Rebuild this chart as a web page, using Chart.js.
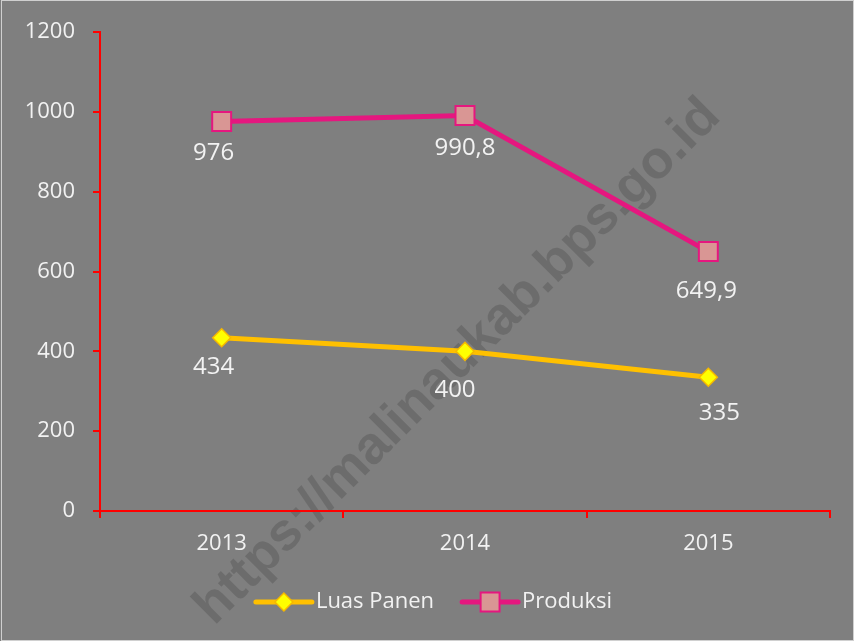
<!DOCTYPE html>
<html>
<head>
<meta charset="utf-8">
<script src="https://cdn.jsdelivr.net/npm/chart.js@4.4.1/dist/chart.umd.min.js"></script>
<style>
  html, body { margin: 0; padding: 0; background: #7f7f7f; }
  #wrap { width: 854px; height: 641px; }
</style>
</head>
<body>
<div id="wrap"><canvas id="grafik"></canvas></div>
<script>
// data
const tahun = ['2013', '2014', '2015'];
const luasPanen = [434, 400, 335];
const produksi = [976, 990.8, 649.9];
const yTicks = [0, 200, 400, 600, 800, 1000, 1200];

const FONT = '"Open Sans", "Noto Sans", sans-serif';
const TEXT = '#f2f2f2';

function angka(v) {
    return String(v).replace('.', ',');
}

// label posisi relatif titik (dx, dy)
const geserLabel = [
    [[-8, 29], [-10, 39], [11, 36]],
    [[-8, 32], [0, 33], [-2, 40]]
];

const latarPlugin = {
    id: 'latar',
    beforeDraw(chart) {
        const c = chart.ctx;
        c.save();
        c.fillStyle = '#7f7f7f';
        c.fillRect(0, 0, chart.width, chart.height);
        c.strokeStyle = '#d0d0d0';
        c.lineWidth = 1;
        c.strokeRect(1.5, 0.5, chart.width - 2, chart.height - 1);
        // watermark
        c.translate(458, 362);
        c.rotate(-Math.PI / 4);
        c.font = 'bold 53px "Liberation Sans", Arial, sans-serif';
        c.fillStyle = 'rgba(0,0,0,0.15)';
        c.textAlign = 'center';
        c.textBaseline = 'middle';
        c.fillText('https://malinaukab.bps.go.id', 0, 0);
        c.restore();
    }
};

const labelPlugin = {
    id: 'labelData',
    afterDatasetsDraw(chart) {
        const c = chart.ctx;
        c.save();
        c.font = '24px ' + FONT;
        c.fillStyle = TEXT;
        c.textAlign = 'center';
        c.textBaseline = 'middle';
        chart.data.datasets.forEach((ds, i) => {
            chart.getDatasetMeta(i).data.forEach((pt, j) => {
                const g = geserLabel[i][j];
                c.fillText(angka(ds.data[j]), pt.x + g[0], pt.y + g[1]);
            });
        });
        c.restore();
    }
};

const legendaPlugin = {
    id: 'legenda',
    afterDraw(chart) {
        const c = chart.ctx;
        c.save();
        c.font = '22px ' + FONT;
        c.textBaseline = 'middle';
        const y = 602;
        const garis = 56, jarak = 4, antar = 28;
        const lebar = chart.data.datasets.map(ds => garis + jarak + c.measureText(ds.label).width);
        let x = (chart.width - (lebar.reduce((a, b) => a + b, 0) + antar * (lebar.length - 1))) / 2 + 7;
        chart.data.datasets.forEach((ds, i) => {
            c.strokeStyle = ds.borderColor;
            c.lineWidth = ds.borderWidth;
            c.lineCap = 'round';
            c.beginPath();
            c.moveTo(x, y);
            c.lineTo(x + garis, y);
            c.stroke();
            c.fillStyle = ds.pointBackgroundColor;
            c.strokeStyle = ds.pointBorderColor;
            c.lineWidth = ds.pointBorderWidth;
            c.beginPath();
            if (ds.pointStyle === 'rect') {
                const s = ds.pointRadius * Math.SQRT1_2;
                c.rect(x + garis / 2 - s, y - s, 2 * s, 2 * s);
            } else {
                const r = ds.pointRadius;
                c.moveTo(x + garis / 2 - r, y);
                c.lineTo(x + garis / 2, y - r);
                c.lineTo(x + garis / 2 + r, y);
                c.lineTo(x + garis / 2, y + r);
                c.closePath();
            }
            c.fill();
            c.stroke();
            c.fillStyle = TEXT;
            c.textAlign = 'left';
            c.fillText(ds.label, x + garis + jarak, y);
            x += lebar[i] + antar;
        });
        c.restore();
    }
};

const ctx = document.getElementById('grafik');

let grafik = new Chart(ctx, {
    type: 'line',
    data: {
        labels: tahun,
        datasets: [{
            label: 'Luas Panen',
            data: luasPanen,
            borderColor: '#ffc000',
            borderWidth: 5,
            pointStyle: 'rectRot',
            pointRadius: 9,
            pointHoverRadius: 9,
            pointBackgroundColor: '#ffff00',
            pointBorderColor: '#f5b800',
            pointBorderWidth: 1.5,
            tension: 0,
            fill: false
        }, {
            label: 'Produksi',
            data: produksi,
            borderColor: '#e5177f',
            borderWidth: 5,
            pointStyle: 'rect',
            pointRadius: 13.4,
            pointHoverRadius: 13.4,
            pointBackgroundColor: '#d99694',
            pointBorderColor: '#e5177f',
            pointBorderWidth: 2,
            tension: 0,
            fill: false
        }]
    },
    options: {
        responsive: true,
        maintainAspectRatio: false,
        animation: false,
        events: [],
        layout: { padding: { top: 32, right: 24, bottom: 0, left: 0 } },
        plugins: {
            legend: { display: false },
            tooltip: { enabled: false }
        },
        scales: {
            x: {
                offset: true,
                grid: {
                    offset: true,
                    drawOnChartArea: false,
                    color: '#ff0000',
                    lineWidth: 2,
                    tickLength: 7
                },
                border: { color: '#ff0000', width: 2 },
                ticks: {
                    color: TEXT,
                    font: { family: FONT, size: 22 },
                    padding: 13
                },
                afterFit(scale) { scale.height = 130; }
            },
            y: {
                min: 0,
                max: 1200,
                afterBuildTicks(scale) { scale.ticks = yTicks.map(v => ({ value: v })); },
                grid: {
                    drawOnChartArea: false,
                    color: '#ff0000',
                    lineWidth: 2,
                    tickLength: 7
                },
                border: { color: '#ff0000', width: 2 },
                ticks: {
                    color: TEXT,
                    font: { family: FONT, size: 22 },
                    padding: 18,
                    callback: v => String(v)
                },
                afterFit(scale) { scale.width = 100; }
            }
        }
    },
    plugins: [latarPlugin, labelPlugin, legendaPlugin]
});
</script>
</body>
</html>
